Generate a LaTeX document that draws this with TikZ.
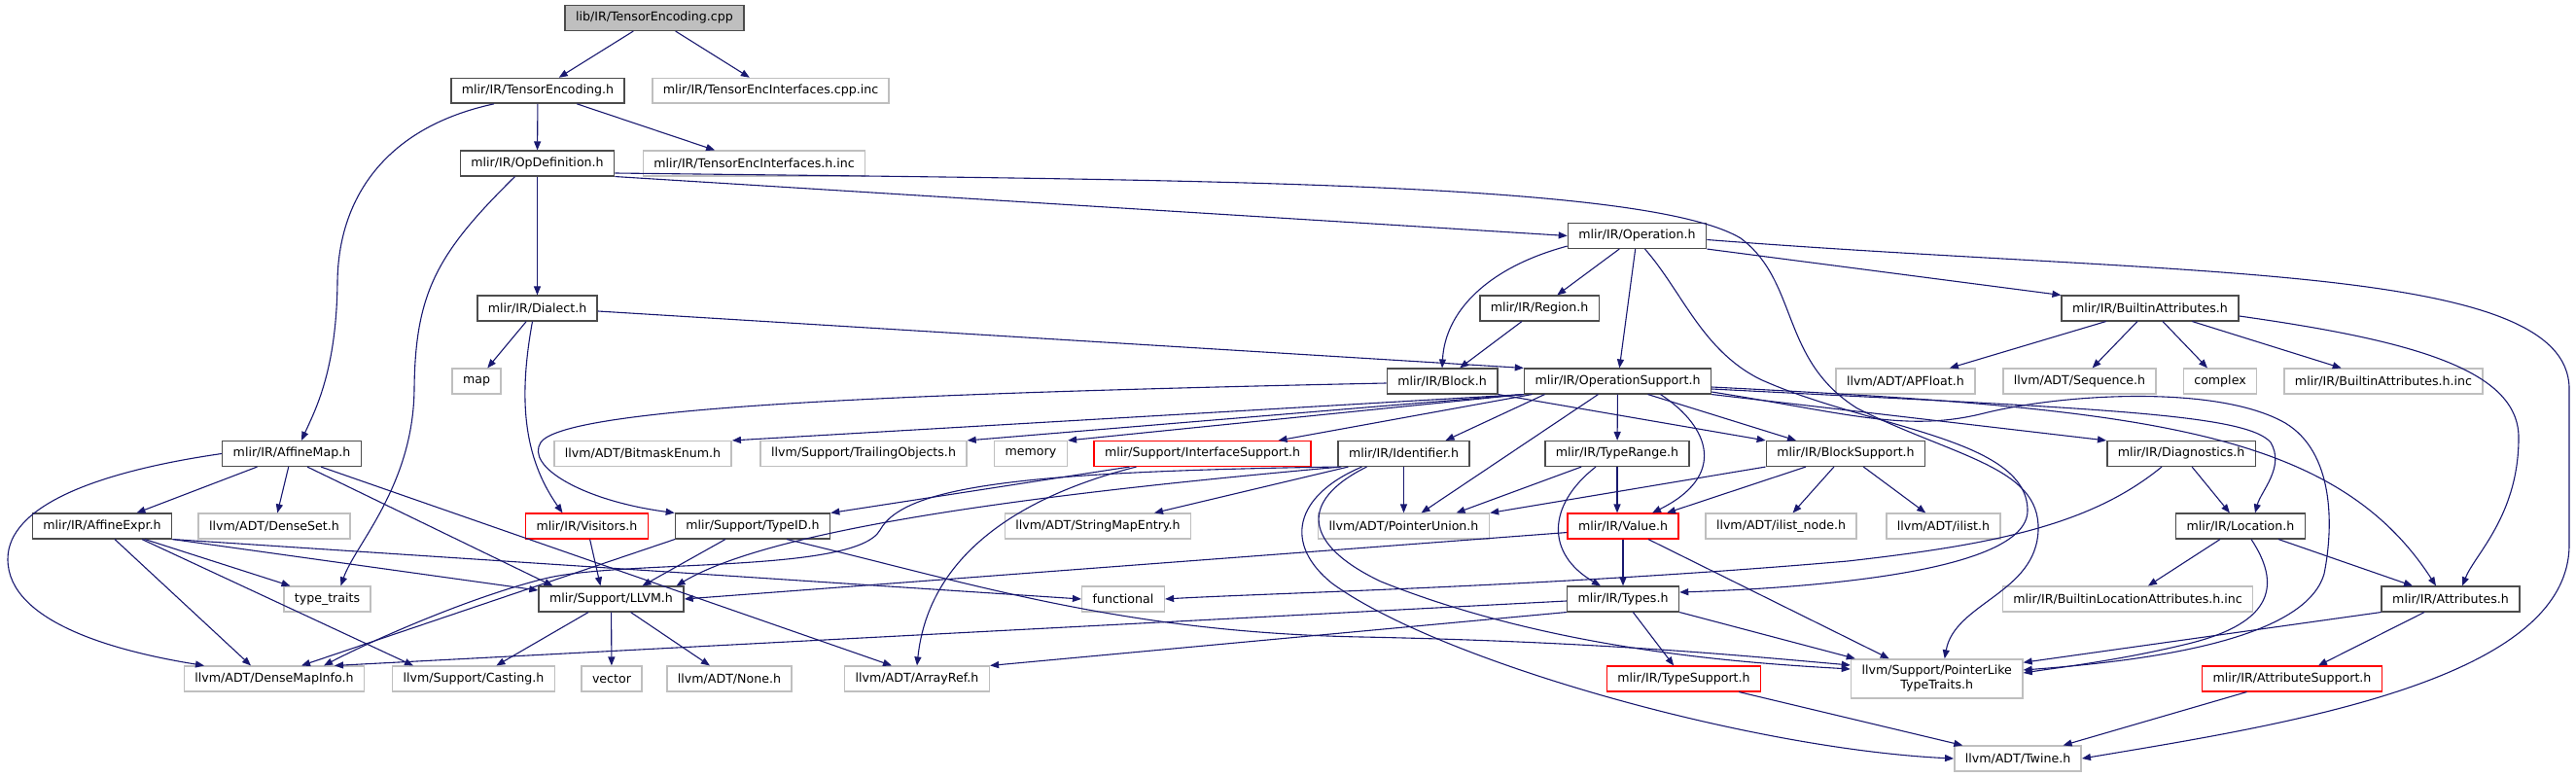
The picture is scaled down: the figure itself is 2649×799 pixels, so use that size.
\documentclass[tikz,border=0pt]{standalone}
\usepackage{fontspec}
\setmainfont{DejaVu Sans}
\usetikzlibrary{arrows.meta}
\definecolor{incblue}{HTML}{191970}
\definecolor{grey75}{HTML}{BFBFBF}
\tikzset{
  file/.style={rectangle, draw=black!70, fill=white, line width=1.5pt, minimum height=25.6pt,
    inner xsep=11pt, inner ysep=0pt, font=\fontsize{12.6}{15}\selectfont},
  extfile/.style={file, draw=grey75},
  trunc/.style={file, draw=red},
  rootfile/.style={file, fill=grey75},
  inc/.style={->, draw=incblue, line width=1.1pt},
}

\begin{document}
\begin{tikzpicture}[x=1pt,y=-1pt,>={Triangle[length=9pt,width=7pt]}]
\useasboundingbox (0,0) rectangle (2649,799);
% rows of files
\node[rootfile] (cpp) at (673,18.5) {lib/IR/TensorEncoding.cpp};
\node[file] (teh) at (553,93.3) {mlir/IR/TensorEncoding.h};
\node[extfile] (tecppinc) at (792.5,93.3) {mlir/IR/TensorEncInterfaces.cpp.inc};
\node[file] (opdef) at (552.5,168) {mlir/IR/OpDefinition.h};
\node[extfile] (tehinc) at (775.5,168) {mlir/IR/TensorEncInterfaces.h.inc};
\node[file] (operation) at (1683.5,242.5) {mlir/IR/Operation.h};
\node[file] (dialect) at (552.5,317) {mlir/IR/Dialect.h};
\node[file] (region) at (1583,317) {mlir/IR/Region.h};
\node[file] (builtinattr) at (2211,317) {mlir/IR/BuiltinAttributes.h};
\node[extfile] (mapn) at (490,392) {map};
\node[file] (block) at (1483,392) {mlir/IR/Block.h};
\node[file] (opsupport) at (1663.5,392) {mlir/IR/OperationSupport.h};
\node[extfile] (apfloat) at (1959.5,392) {llvm/ADT/APFloat.h};
\node[extfile] (sequence) at (2138.5,392) {llvm/ADT/Sequence.h};
\node[extfile] (complexn) at (2283,392) {complex};
\node[extfile] (builtininc) at (2451,392) {mlir/IR/BuiltinAttributes.h.inc};
\node[file] (affinemap) at (300,466.5) {mlir/IR/AffineMap.h};
\node[extfile] (bitmask) at (661,466.5) {llvm/ADT/BitmaskEnum.h};
\node[extfile] (trailing) at (888,466.5) {llvm/Support/TrailingObjects.h};
\node[extfile] (memoryn) at (1060,466.5) {memory};
\node[trunc] (ifacesupport) at (1236.5,466.5) {mlir/Support/InterfaceSupport.h};
\node[file] (identifier) at (1443.5,466.5) {mlir/IR/Identifier.h};
\node[file] (typerange) at (1663,466.5) {mlir/IR/TypeRange.h};
\node[file] (blocksupport) at (1898,466.5) {mlir/IR/BlockSupport.h};
\node[file] (diagnostics) at (2243,466.5) {mlir/IR/Diagnostics.h};
\node[file] (affineexpr) at (105,541) {mlir/IR/AffineExpr.h};
\node[extfile] (denseset) at (282,541) {llvm/ADT/DenseSet.h};
\node[trunc] (visitors) at (603.5,541) {mlir/IR/Visitors.h};
\node[file] (typeid) at (774,541) {mlir/Support/TypeID.h};
\node[extfile] (stringmapentry) at (1129,541) {llvm/ADT/StringMapEntry.h};
\node[extfile] (pointerunion) at (1443.5,541) {llvm/ADT/PointerUnion.h};
\node[trunc] (value) at (1669,541) {mlir/IR/Value.h};
\node[extfile] (ilistnode) at (1831.5,541) {llvm/ADT/ilist\_node.h};
\node[extfile] (ilist) at (1998.5,541) {llvm/ADT/ilist.h};
\node[file] (location) at (2304,541) {mlir/IR/Location.h};
\node[extfile] (typetraits) at (336.5,616) {type\_traits};
\node[file] (llvmh) at (628.5,616) {mlir/Support/LLVM.h};
\node[extfile] (functional) at (1155,616) {functional};
\node[file] (types) at (1669,616) {mlir/IR/Types.h};
\node[extfile] (bilocinc) at (2188,616) {mlir/IR/BuiltinLocationAttributes.h.inc};
\node[file] (attributes) at (2520,616) {mlir/IR/Attributes.h};
\node[extfile] (densemapinfo) at (282,698) {llvm/ADT/DenseMapInfo.h};
\node[extfile] (casting) at (487,698) {llvm/Support/Casting.h};
\node[extfile] (vectorn) at (629,698) {vector};
\node[extfile] (none) at (750,698) {llvm/ADT/None.h};
\node[extfile] (arrayref) at (943,698) {llvm/ADT/ArrayRef.h};
\node[trunc] (typesupport) at (1731.5,698) {mlir/IR/TypeSupport.h};
\node[extfile, align=center, minimum height=40pt] (pointerlike) at (1991.7,698) {llvm/Support/PointerLike\\TypeTraits.h};
\node[trunc] (attrsupport) at (2357,698) {mlir/IR/AttributeSupport.h};
\node[extfile] (twine) at (2075,780) {llvm/ADT/Twine.h};

% root file
\draw[inc] (cpp) -- (teh);
\draw[inc] (cpp) -- (tecppinc);
% TensorEncoding.h
\draw[inc] ([xshift=-45]teh.south) .. controls (400,130) and (348,200) .. (347,290) .. controls (346,380) and (325,420) .. ([xshift=10]affinemap.north);
\draw[inc] (teh) -- (opdef);
\draw[inc] (teh) -- (tehinc);
% OpDefinition.h
\draw[inc] (opdef) -- (dialect);
\draw[inc] ([xshift=-23]opdef.south) .. controls (450,260) and (427,300) .. (426,400) .. controls (425,500) and (365,560) .. ([xshift=14]typetraits.north);
\draw[inc] (opdef.south east) -- (operation.west);
\draw[inc] ([yshift=-10]opdef.east) .. controls (1200,185) and (1690,185) .. (1790,245) .. controls (1850,290) and (1830,370) .. (1910,420) .. controls (2010,470) and (2098,480) .. (2096,545) .. controls (2094,610) and (2010,620) .. ([xshift=8]pointerlike.north);
% Operation.h
\draw[inc] ([yshift=3]operation.south west) .. controls (1530,275) and (1486,320) .. (block.north);
\draw[inc] (operation) -- (region);
\draw[inc] (operation) -- (opsupport);
\draw[inc] ([xshift=8]operation.south) .. controls (1730,300) and (1750,360) .. (1810,390) .. controls (1920,440) and (2085,450) .. (2085,525) .. controls (2085,590) and (1850,605) .. ([yshift=7]types.east);
\draw[inc] (operation.south east) -- (builtinattr.north west);
\draw[inc] ([yshift=-4]operation.east) .. controls (2250,285) and (2642,270) .. (2642,400) -- (2642,560) .. controls (2642,700) and (2350,745) .. (twine.east);
% Region.h and Dialect.h
\draw[inc] (region) -- (block);
\draw[inc] (dialect) -- (mapn);
\draw[inc] ([yshift=-3]dialect.east) -- (opsupport.north west);
\draw[inc] ([xshift=-5]dialect.south) .. controls (533,410) and (538,470) .. ([xshift=-25]visitors.north);
% Block.h
\draw[inc] ([yshift=-2]block.west) .. controls (900,405) and (580,420) .. (556,455) .. controls (540,480) and (600,515) .. (typeid.north west);
\draw[inc] (block.south east) -- (blocksupport.north west);
% OperationSupport.h
\draw[inc] (opsupport.south west) -- (bitmask.north east);
\draw[inc] (opsupport.south west) -- (trailing.north east);
\draw[inc] (opsupport.south west) -- (memoryn.north east);
\draw[inc] ([xshift=-88]opsupport.south) -- ([xshift=78]ifacesupport.north);
\draw[inc] ([xshift=-75]opsupport.south) -- ([xshift=43]identifier.north);
\draw[inc] ([xshift=-20]opsupport.south) -- ([xshift=18]pointerunion.north);
\draw[inc] (opsupport) -- (typerange);
\draw[inc] ([xshift=44]opsupport.south) .. controls (1760,440) and (1775,490) .. ([xshift=30]value.north);
\draw[inc] ([xshift=31]opsupport.south) -- ([xshift=-51]blocksupport.north);
\draw[inc] (opsupport.south east) -- (diagnostics.north west);
\draw[inc] ([yshift=-8]opsupport.east) .. controls (2150,420) and (2310,425) .. (2335,455) .. controls (2350,480) and (2325,505) .. ([xshift=15]location.north);
\draw[inc] ([yshift=-6]opsupport.east) .. controls (2200,420) and (2400,440) .. ([xshift=-15]attributes.north);
\draw[inc] ([yshift=-11]opsupport.east) .. controls (1900,425) and (1960,445) .. (2040,425) .. controls (2120,405) and (2280,395) .. (2350,435) .. controls (2400,465) and (2400,540) .. (2390,590) .. controls (2370,660) and (2200,680) .. ([yshift=9]pointerlike.east);
% BuiltinAttributes.h
\draw[inc] (builtinattr) -- (apfloat);
\draw[inc] (builtinattr) -- (sequence);
\draw[inc] (builtinattr) -- (complexn);
\draw[inc] (builtinattr) -- (builtininc);
\draw[inc] ([yshift=-8]builtinattr.east) .. controls (2480,350) and (2590,380) .. (2590,450) .. controls (2590,530) and (2545,570) .. ([xshift=12]attributes.north);
% AffineMap.h
\draw[inc] (affinemap.west) .. controls (100,485) and (8,520) .. (8,575) .. controls (8,640) and (120,670) .. ([xshift=-72]densemapinfo.north);
\draw[inc] (affinemap) -- (affineexpr);
\draw[inc] (affinemap) -- (denseset);
\draw[inc] ([xshift=16]affinemap.south) -- ([xshift=-60]llvmh.north);
\draw[inc] ([xshift=30]affinemap.south) -- ([xshift=-26]arrayref.north);
% AffineExpr.h
\draw[inc] ([xshift=13]affineexpr.south) -- ([xshift=-24]densemapinfo.north);
\draw[inc] ([xshift=41]affineexpr.south) -- ([xshift=-62]casting.north);
\draw[inc] ([xshift=44]affineexpr.south) -- ([xshift=-38]typetraits.north);
\draw[inc] (affineexpr.south east) -- ([yshift=9]llvmh.west);
\draw[inc] (affineexpr.south east) -- (functional.west);
% Visitors.h and TypeID.h
\draw[inc] (visitors) -- ([xshift=-11]llvmh.north);
\draw[inc] ([xshift=-28]typeid.south) -- ([xshift=32]llvmh.north);
\draw[inc] ([xshift=-80]typeid.south) -- ([xshift=28]densemapinfo.north);
\draw[inc] ([xshift=35]typeid.south) .. controls (1000,600) and (1150,650) .. (1400,655) .. controls (1650,660) and (1800,675) .. ([yshift=14]pointerlike.west);
% InterfaceSupport.h
\draw[inc] ([xshift=-75]ifacesupport.south) -- (typeid.north east);
\draw[inc] ([xshift=-68]ifacesupport.south) .. controls (1050,510) and (955,570) .. (arrayref.north);
% Identifier.h
\draw[inc] ([xshift=4]identifier.south west) .. controls (1100,505) and (800,540) .. ([xshift=67]llvmh.north);
\draw[inc] (identifier.south west) .. controls (1050,485) and (930,500) .. (905,545) .. controls (880,590) and (640,575) .. (560,595) .. controls (480,615) and (380,660) .. ([xshift=51]densemapinfo.north);
\draw[inc] (identifier) -- ([xshift=58]stringmapentry.north);
\draw[inc] (identifier) -- (pointerunion);
\draw[inc] ([xshift=-43]identifier.south) .. controls (1330,510) and (1320,560) .. (1370,600) .. controls (1480,680) and (1800,770) .. (twine.west);
\draw[inc] ([xshift=-38]identifier.south) .. controls (1335,515) and (1340,560) .. (1420,598) .. controls (1600,670) and (1800,682) .. ([yshift=10]pointerlike.west);
% TypeRange.h and BlockSupport.h
\draw[inc] (typerange) -- ([xshift=54]pointerunion.north);
\draw[inc] (typerange) -- ([xshift=-6]value.north);
\draw[inc] ([xshift=-22]typerange.south) .. controls (1590,520) and (1590,570) .. ([xshift=-23]types.north);
\draw[inc] (blocksupport.south west) -- (pointerunion.north east);
\draw[inc] ([xshift=-41]blocksupport.south) -- ([xshift=45]value.north);
\draw[inc] (blocksupport) -- (ilistnode);
\draw[inc] (blocksupport) -- (ilist);
% Value.h
\draw[inc] (value) -- (types);
\draw[inc] ([yshift=7]value.south west) -- (llvmh.east);
\draw[inc] ([xshift=26]value.south) -- ([xshift=-49]pointerlike.north);
% Diagnostics.h and Location.h
\draw[inc] (diagnostics) -- (location);
\draw[inc] ([xshift=-20]diagnostics.south) .. controls (2150,540) and (2050,560) .. (1900,577) .. controls (1600,603) and (1300,610) .. (functional.east);
\draw[inc] (location) -- (bilocinc);
\draw[inc] (location) -- (attributes);
\draw[inc] ([xshift=11]location.south) .. controls (2345,600) and (2340,640) .. (2250,662) .. controls (2180,679) and (2120,686) .. ([yshift=6]pointerlike.east);
% Types.h
\draw[inc] ([yshift=-2]types.west) -- ([xshift=62]densemapinfo.north);
\draw[inc] (types.south west) -- (arrayref.north east);
\draw[inc] (types) -- (typesupport);
\draw[inc] (types.south east) -- ([xshift=5]pointerlike.north west);
% LLVM.h
\draw[inc] (llvmh) -- (casting);
\draw[inc] (llvmh) -- (vectorn);
\draw[inc] (llvmh) -- (none);
% Attributes.h and the red ones
\draw[inc] (attributes.south west) -- ([yshift=-4]pointerlike.north east);
\draw[inc] (attributes) -- (attrsupport);
\draw[inc] (typesupport) -- (twine);
\draw[inc] (attrsupport) -- (twine);
\end{tikzpicture}
\end{document}
